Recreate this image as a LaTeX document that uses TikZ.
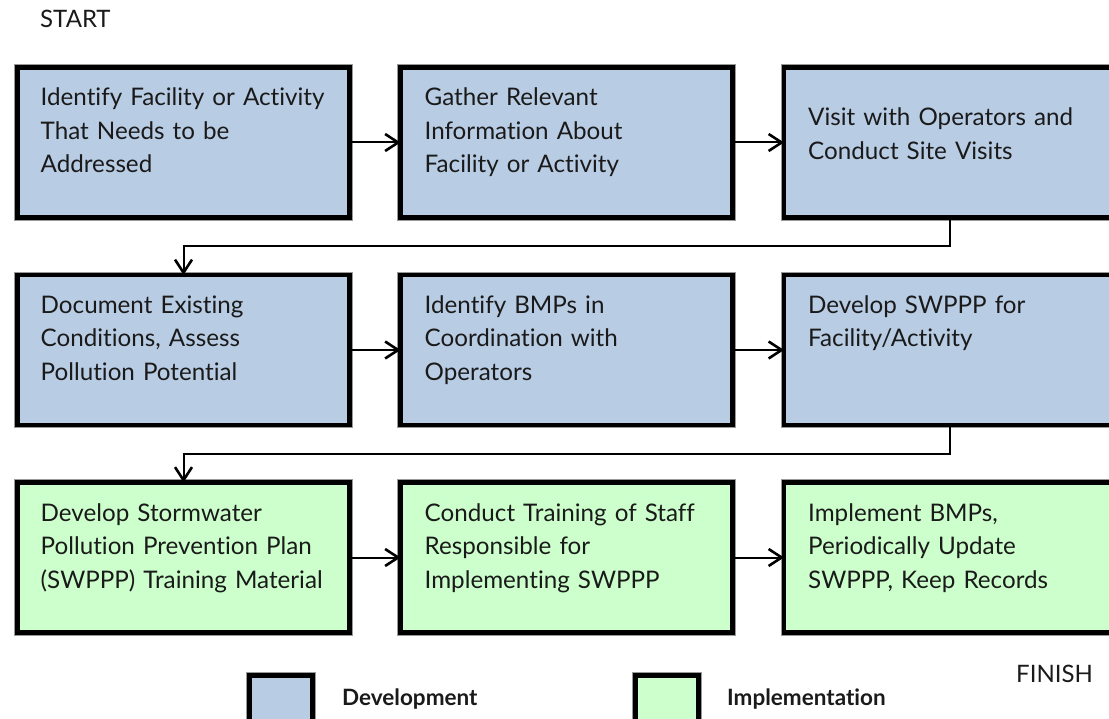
\documentclass[tikz,border=0pt]{standalone}
\usepackage{fontspec}
\setmainfont{Lato}[Ligatures=NoCommon]
\usetikzlibrary{arrows.meta,calc}
\definecolor{devblue}{RGB}{184,204,228}
\definecolor{impgreen}{RGB}{204,255,204}
\definecolor{inkgray}{RGB}{26,26,26}

\begin{document}
\begin{tikzpicture}[x=1pt,y=-1pt,
  box/.style={draw=black, line width=4.5pt,
    preaction={draw=black!40, line width=6.5pt},
    minimum width=332pt, minimum height=150pt,
    anchor=north west, inner sep=0pt, outer sep=0pt},
  devbox/.style={box, fill=devblue},
  impbox/.style={box, fill=impgreen},
  keybox/.style={draw=black, line width=4.5pt,
    preaction={draw=black!40, line width=6.5pt},
    minimum width=63pt, minimum height=70pt,
    anchor=north west, inner sep=0pt, outer sep=0pt},
  steptext/.style={anchor=base west, text width=320pt, align=left,
    inner sep=0pt, text=inkgray, font=\fontsize{24.2}{33.5}\selectfont},
  endtext/.style={anchor=base west, inner sep=0pt, text=inkgray,
    font=\fontsize{24}{28}\selectfont},
  keytext/.style={anchor=base west, inner sep=0pt, text=inkgray,
    font=\fontsize{22.5}{26}\bfseries\selectfont},
  flow/.style={draw=black, line width=2pt,
    -{Straight Barb[length=13pt, width=17pt, line width=2.6pt]}}]

\useasboundingbox (0,0) rectangle (1109,719);
\clip (0,0) rectangle (1109,719);

% start and finish labels
\node[endtext] (start) at (40,28) {START};
\node[endtext] (finish) at (1016,682) {FINISH};

% row 1: development
\node[devbox] (b1) at (17.5,67.5) {};
\node[devbox] (b2) at (400.5,67.5) {};
\node[devbox] (b3) at (784,67.5) {};
% row 2: development
\node[devbox] (b4) at (17.5,275) {};
\node[devbox] (b5) at (400.5,275) {};
\node[devbox] (b6) at (784,275) {};
% row 3: implementation
\node[impbox] (b7) at (17.5,482.5) {};
\node[impbox] (b8) at (400.5,482.5) {};
\node[impbox] (b9) at (784,482.5) {};

% step texts
\node[steptext] (t1) at ([shift={(23,38.5)}]b1.north west)
  {Identify Facility or Activity\\That Needs to be\\Addressed};
\node[steptext] (t2) at ([shift={(24,38.5)}]b2.north west)
  {Gather Relevant\\Information About\\Facility or Activity};
\node[steptext] (t3) at ([shift={(24,58.5)}]b3.north west)
  {Visit with Operators and\\Conduct Site Visits};
\node[steptext] (t4) at ([shift={(23,38.5)}]b4.north west)
  {Document Existing\\Conditions, Assess\\Pollution Potential};
\node[steptext] (t5) at ([shift={(24,38.5)}]b5.north west)
  {Identify BMPs in\\Coordination with\\Operators};
\node[steptext] (t6) at ([shift={(24,38.5)}]b6.north west)
  {Develop SWPPP for\\Facility/Activity};
\node[steptext] (t7) at ([shift={(23,38.5)}]b7.north west)
  {Develop Stormwater\\Pollution Prevention Plan\\(SWPPP) Training Material};
\node[steptext] (t8) at ([shift={(24,38.5)}]b8.north west)
  {Conduct Training of Staff\\Responsible for\\Implementing SWPPP};
\node[steptext] (t9) at ([shift={(24,38.5)}]b9.north west)
  {Implement BMPs,\\Periodically Update\\SWPPP, Keep Records};

% connectors within rows
\draw[flow] (b1.east) -- (b2.west);
\draw[flow] (b2.east) -- (b3.west);
\draw[flow] (b4.east) -- (b5.west);
\draw[flow] (b5.east) -- (b6.west);
\draw[flow] (b7.east) -- (b8.west);
\draw[flow] (b8.east) -- (b9.west);

% connectors between rows
\coordinate (m1) at ($(b1.south)!0.5!(b4.north)$);
\coordinate (m2) at ($(b4.south)!0.5!(b7.north)$);
\draw[flow] (b3.south) |- (m1) -- (b4.north);
\draw[flow] (b6.south) |- (m2) -- (b7.north);

% legend
\node[keybox, fill=devblue] (k1) at (249.5,675.5) {};
\node[keytext] (k1t) at (342,705) {Development};
\node[keybox, fill=impgreen] (k2) at (635.5,675.5) {};
\node[keytext] (k2t) at (727,705) {Implementation};
\end{tikzpicture}
\end{document}
